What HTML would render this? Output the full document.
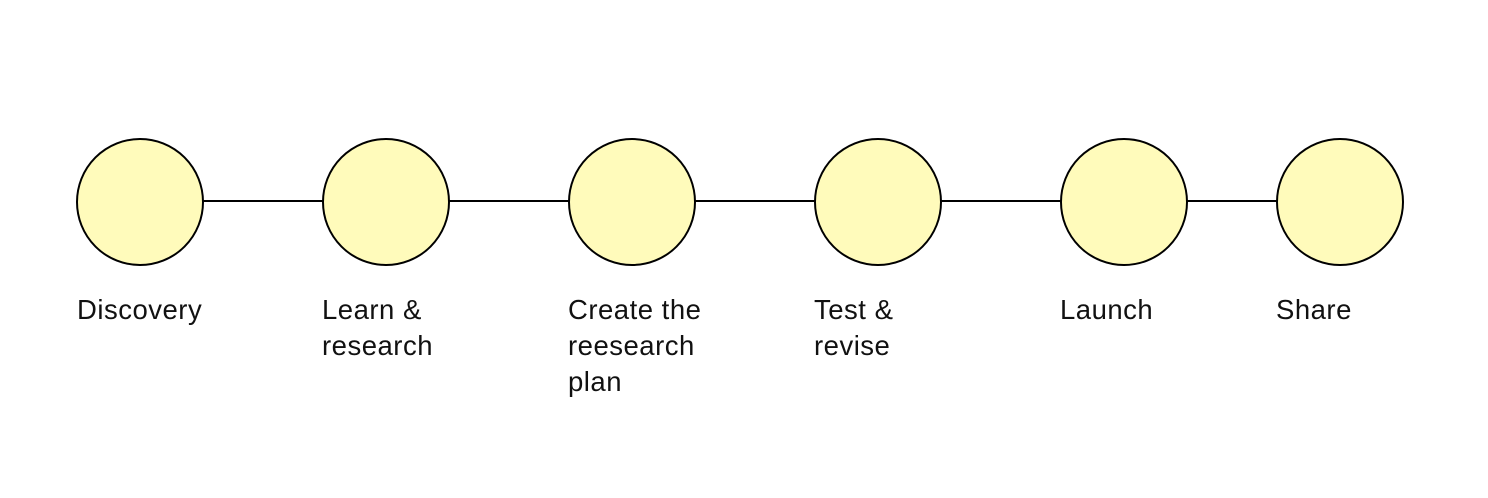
<!DOCTYPE html>
<html><head><style>
body{margin:0;width:1488px;height:498px;background:#fff;position:relative;overflow:hidden;font-family:"Liberation Sans",sans-serif;}
.t{position:absolute;top:292px;font-size:27.5px;letter-spacing:0.5px;line-height:36px;color:#111;white-space:nowrap;}
</style></head><body>
<svg width="1488" height="498" style="position:absolute;left:0;top:0">
<g stroke="#000" stroke-width="2">
<line x1="140" y1="201" x2="1340" y2="201"/>
<g fill="#fffbbb">
<circle cx="140" cy="202" r="63"/>
<circle cx="386" cy="202" r="63"/>
<circle cx="632" cy="202" r="63"/>
<circle cx="878" cy="202" r="63"/>
<circle cx="1124" cy="202" r="63"/>
<circle cx="1340" cy="202" r="63"/>
</g></g></svg>
<div class="t" style="left:77px">Discovery</div>
<div class="t" style="left:322px">Learn &amp;<br>research</div>
<div class="t" style="left:568px">Create the<br>reesearch<br>plan</div>
<div class="t" style="left:814px">Test &amp;<br>revise</div>
<div class="t" style="left:1060px">Launch</div>
<div class="t" style="left:1276px">Share</div>
</body></html>
